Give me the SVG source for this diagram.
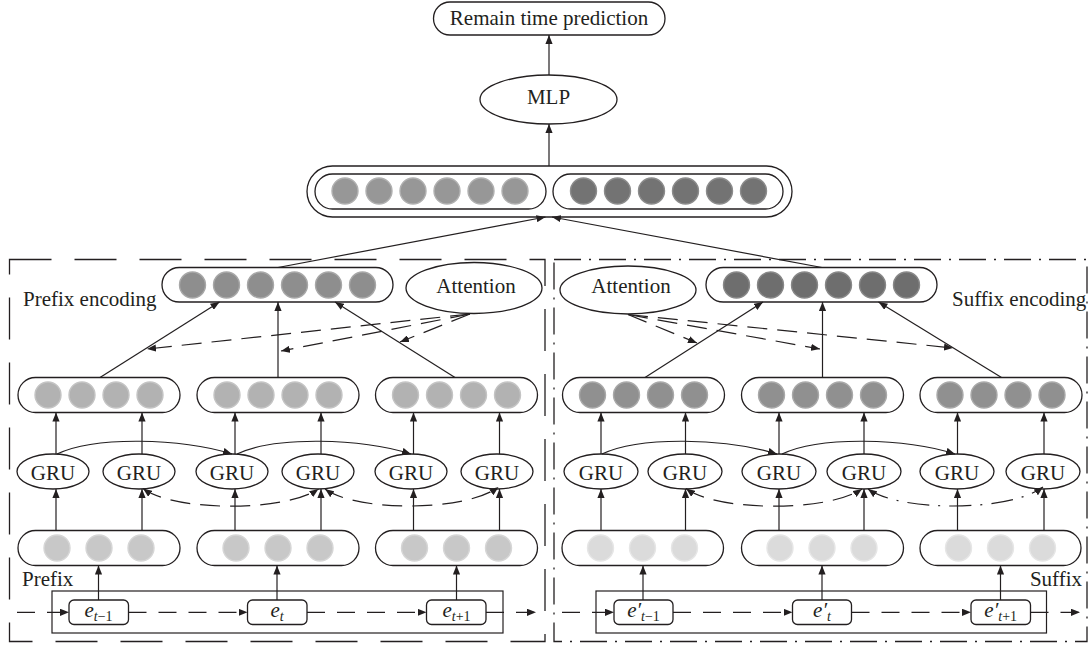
<svg xmlns="http://www.w3.org/2000/svg" width="1089" height="646" viewBox="0 0 1089 646">
  <style>
    .box { fill: #ffffff; stroke: #231f20; stroke-width: 1.3; }
    .lbl { font-family: "Liberation Serif", "Times New Roman", serif; font-size: 21px; fill: #231f20; }
    .mid { text-anchor: middle; }
    .ln { fill: none; stroke: #231f20; stroke-width: 1.2; }
    .arr { marker-end: url(#ah); }
    .both { marker-start: url(#ah); marker-end: url(#ah); }
    .dsh { stroke-dasharray: 20 10; }
    .dshdot { stroke-dasharray: 22 9 2 9; }
    .seq { stroke-dasharray: 18 12; }
    .frameL { fill: none; stroke: #231f20; stroke-width: 1.3; stroke-dasharray: 42 23; }
    .frameR { fill: none; stroke: #231f20; stroke-width: 1.3; stroke-dasharray: 27 8 2 8; }
    .cl { fill: #979797; stroke: #b0b0b0; stroke-width: 1.4; }
    .cr { fill: #737373; stroke: #8c8c8c; stroke-width: 1.4; }
    .pe { fill: #8e8e8e; stroke: #a8a8a8; stroke-width: 1.4; }
    .se { fill: #6e6e6e; stroke: #888888; stroke-width: 1.4; }
    .ph { fill: #b2b2b2; stroke: #c4c4c4; stroke-width: 1.4; }
    .sh { fill: #909090; stroke: #a9a9a9; stroke-width: 1.4; }
    .pi { fill: #c8c8c8; stroke: #d6d6d6; stroke-width: 1.4; }
    .si { fill: #dbdbdb; stroke: #e6e6e6; stroke-width: 1.4; }
  </style>
  <defs>
    <marker id="ah" viewBox="0 0 10 8" refX="10" refY="4" markerWidth="9" markerHeight="7.2" markerUnits="userSpaceOnUse" orient="auto-start-reverse">
      <path d="M0,0 L10,4 L0,8 z" fill="#231f20"/>
    </marker>
  </defs>

  <!-- encoder frames -->
  <g id="frames">
    <rect class="frameL" x="9.5" y="259.5" width="535.5" height="382"/>
    <rect class="frameR" x="554" y="259.5" width="533" height="382"/>
  </g>

  <!-- output head -->
  <g id="remain">
    <rect class="box" x="433.5" y="2" width="231.5" height="33" rx="16.5"/>
    <text class="lbl mid" x="549" y="25">Remain time prediction</text>
  </g>
  <g id="mlp">
    <ellipse class="box" cx="548.5" cy="99.5" rx="68.5" ry="24.5"/>
    <text class="lbl mid" x="548.5" y="104">MLP</text>
  </g>
  <g id="concat">
    <rect class="box" x="307" y="166" width="485" height="51" rx="25.5"/>
    <rect class="box" x="315" y="174" width="231" height="35" rx="17.5"/>
    <rect class="box" x="553" y="174" width="230" height="35" rx="17.5"/>
    <circle class="cl" cx="345" cy="191" r="13"/>
    <circle class="cl" cx="379" cy="191" r="13"/>
    <circle class="cl" cx="413" cy="191" r="13"/>
    <circle class="cl" cx="447" cy="191" r="13"/>
    <circle class="cl" cx="481" cy="191" r="13"/>
    <circle class="cl" cx="515" cy="191" r="13"/>
    <circle class="cr" cx="583.5" cy="191" r="13"/>
    <circle class="cr" cx="617.5" cy="191" r="13"/>
    <circle class="cr" cx="651.5" cy="191" r="13"/>
    <circle class="cr" cx="685.5" cy="191" r="13"/>
    <circle class="cr" cx="719.5" cy="191" r="13"/>
    <circle class="cr" cx="753.5" cy="191" r="13"/>
  </g>

  <!-- prefix encoder -->
  <g id="prefix-encoding">
    <rect class="box" x="162" y="267.5" width="231" height="34.5" rx="17.25"/>
    <circle class="pe" cx="192.5" cy="285" r="13"/>
    <circle class="pe" cx="226.5" cy="285" r="13"/>
    <circle class="pe" cx="260.5" cy="285" r="13"/>
    <circle class="pe" cx="294.5" cy="285" r="13"/>
    <circle class="pe" cx="328.5" cy="285" r="13"/>
    <circle class="pe" cx="362.5" cy="285" r="13"/>
    <text class="lbl" x="23" y="306">Prefix encoding</text>
  </g>
  <g id="prefix-attention">
    <ellipse class="box" cx="474" cy="288" rx="68" ry="25.5"/>
    <text class="lbl mid" x="476" y="293">Attention</text>
  </g>
  <g id="prefix-hidden">
    <rect class="box" x="18" y="377.5" width="162" height="35" rx="17.5"/>
    <circle class="ph" cx="48" cy="395" r="13"/>
    <circle class="ph" cx="82" cy="395" r="13"/>
    <circle class="ph" cx="116" cy="395" r="13"/>
    <circle class="ph" cx="150" cy="395" r="13"/>
    <rect class="box" x="197" y="377.5" width="162" height="35" rx="17.5"/>
    <circle class="ph" cx="227" cy="395" r="13"/>
    <circle class="ph" cx="261" cy="395" r="13"/>
    <circle class="ph" cx="295" cy="395" r="13"/>
    <circle class="ph" cx="329" cy="395" r="13"/>
    <rect class="box" x="375.5" y="377.5" width="162" height="35" rx="17.5"/>
    <circle class="ph" cx="405.5" cy="395" r="13"/>
    <circle class="ph" cx="439.5" cy="395" r="13"/>
    <circle class="ph" cx="473.5" cy="395" r="13"/>
    <circle class="ph" cx="507.5" cy="395" r="13"/>
  </g>
  <g id="prefix-gru">
    <ellipse class="box" cx="53" cy="471.5" rx="36" ry="17.5"/>
    <text class="lbl mid" x="53" y="479.5">GRU</text>
    <ellipse class="box" cx="139" cy="471.5" rx="36" ry="17.5"/>
    <text class="lbl mid" x="139" y="479.5">GRU</text>
    <ellipse class="box" cx="232" cy="471.5" rx="36" ry="17.5"/>
    <text class="lbl mid" x="232" y="479.5">GRU</text>
    <ellipse class="box" cx="318" cy="471.5" rx="36" ry="17.5"/>
    <text class="lbl mid" x="318" y="479.5">GRU</text>
    <ellipse class="box" cx="411" cy="471.5" rx="36" ry="17.5"/>
    <text class="lbl mid" x="411" y="479.5">GRU</text>
    <ellipse class="box" cx="497" cy="471.5" rx="36" ry="17.5"/>
    <text class="lbl mid" x="497" y="479.5">GRU</text>
  </g>
  <g id="prefix-input">
    <rect class="box" x="18" y="530.5" width="162" height="35" rx="17.5"/>
    <circle class="pi" cx="57" cy="548" r="13"/>
    <circle class="pi" cx="99" cy="548" r="13"/>
    <circle class="pi" cx="141" cy="548" r="13"/>
    <rect class="box" x="197" y="530.5" width="162" height="35" rx="17.5"/>
    <circle class="pi" cx="236" cy="548" r="13"/>
    <circle class="pi" cx="278" cy="548" r="13"/>
    <circle class="pi" cx="320" cy="548" r="13"/>
    <rect class="box" x="375.5" y="530.5" width="162" height="35" rx="17.5"/>
    <circle class="pi" cx="414.5" cy="548" r="13"/>
    <circle class="pi" cx="456.5" cy="548" r="13"/>
    <circle class="pi" cx="498.5" cy="548" r="13"/>
  </g>
  <g id="prefix-events">
    <text class="lbl" x="22" y="586">Prefix</text>
    <rect class="box" x="52" y="591" width="451" height="42" style="stroke-width:1.2"/>
    <rect class="box" x="69" y="600" width="59.5" height="24.5" rx="5"/>
    <text class="lbl mid" x="98.5" y="617"><tspan font-style="italic">e</tspan><tspan font-size="14" dy="4"><tspan font-style="italic">t</tspan>−1</tspan></text>
    <rect class="box" x="247.5" y="600" width="59.5" height="24.5" rx="5"/>
    <text class="lbl mid" x="277" y="617"><tspan font-style="italic">e</tspan><tspan font-size="14" dy="4" font-style="italic">t</tspan></text>
    <rect class="box" x="426.5" y="600" width="59.5" height="24.5" rx="5"/>
    <text class="lbl mid" x="456.5" y="617"><tspan font-style="italic">e</tspan><tspan font-size="14" dy="4"><tspan font-style="italic">t</tspan>+1</tspan></text>
  </g>

  <!-- suffix encoder -->
  <g id="suffix-encoding">
    <rect class="box" x="706" y="267.5" width="231" height="34.5" rx="17.25"/>
    <circle class="se" cx="736.5" cy="285" r="13"/>
    <circle class="se" cx="770.5" cy="285" r="13"/>
    <circle class="se" cx="804.5" cy="285" r="13"/>
    <circle class="se" cx="838.5" cy="285" r="13"/>
    <circle class="se" cx="872.5" cy="285" r="13"/>
    <circle class="se" cx="906.5" cy="285" r="13"/>
    <text class="lbl" x="952" y="306">Suffix encoding</text>
  </g>
  <g id="suffix-attention">
    <ellipse class="box" cx="628" cy="290" rx="68" ry="24"/>
    <text class="lbl mid" x="631" y="293">Attention</text>
  </g>
  <g id="suffix-hidden">
    <rect class="box" x="562.5" y="377.5" width="162" height="35" rx="17.5"/>
    <circle class="sh" cx="592.5" cy="395" r="13"/>
    <circle class="sh" cx="626.5" cy="395" r="13"/>
    <circle class="sh" cx="660.5" cy="395" r="13"/>
    <circle class="sh" cx="694.5" cy="395" r="13"/>
    <rect class="box" x="741.5" y="377.5" width="162" height="35" rx="17.5"/>
    <circle class="sh" cx="771.5" cy="395" r="13"/>
    <circle class="sh" cx="805.5" cy="395" r="13"/>
    <circle class="sh" cx="839.5" cy="395" r="13"/>
    <circle class="sh" cx="873.5" cy="395" r="13"/>
    <rect class="box" x="920" y="377.5" width="162" height="35" rx="17.5"/>
    <circle class="sh" cx="950" cy="395" r="13"/>
    <circle class="sh" cx="984" cy="395" r="13"/>
    <circle class="sh" cx="1018" cy="395" r="13"/>
    <circle class="sh" cx="1052" cy="395" r="13"/>
  </g>
  <g id="suffix-gru">
    <ellipse class="box" cx="601" cy="471.5" rx="37" ry="17.5"/>
    <text class="lbl mid" x="601" y="479.5">GRU</text>
    <ellipse class="box" cx="685" cy="471.5" rx="37" ry="17.5"/>
    <text class="lbl mid" x="685" y="479.5">GRU</text>
    <ellipse class="box" cx="779" cy="471.5" rx="37" ry="17.5"/>
    <text class="lbl mid" x="779" y="479.5">GRU</text>
    <ellipse class="box" cx="864" cy="471.5" rx="37" ry="17.5"/>
    <text class="lbl mid" x="864" y="479.5">GRU</text>
    <ellipse class="box" cx="957" cy="471.5" rx="37" ry="17.5"/>
    <text class="lbl mid" x="957" y="479.5">GRU</text>
    <ellipse class="box" cx="1043" cy="471.5" rx="37" ry="17.5"/>
    <text class="lbl mid" x="1043" y="479.5">GRU</text>
  </g>
  <g id="suffix-input">
    <rect class="box" x="562" y="530.5" width="161.5" height="35" rx="17.5"/>
    <circle class="si" cx="600.5" cy="548" r="13"/>
    <circle class="si" cx="642.5" cy="548" r="13"/>
    <circle class="si" cx="684.5" cy="548" r="13"/>
    <rect class="box" x="741.5" y="530.5" width="162" height="35" rx="17.5"/>
    <circle class="si" cx="780" cy="548" r="13"/>
    <circle class="si" cx="822" cy="548" r="13"/>
    <circle class="si" cx="864" cy="548" r="13"/>
    <rect class="box" x="920" y="530.5" width="161" height="35" rx="17.5"/>
    <circle class="si" cx="958.5" cy="548" r="13"/>
    <circle class="si" cx="1000.5" cy="548" r="13"/>
    <circle class="si" cx="1042.5" cy="548" r="13"/>
  </g>
  <g id="suffix-events">
    <text class="lbl" x="1082" y="586" text-anchor="end">Suffix</text>
    <rect class="box" x="596" y="591" width="450.5" height="42" style="stroke-width:1.2"/>
    <rect class="box" x="614" y="600" width="59" height="24.5" rx="5"/>
    <text class="lbl mid" x="643.5" y="617"><tspan font-style="italic">e′</tspan><tspan font-size="14" dy="4"><tspan font-style="italic">t</tspan>−1</tspan></text>
    <rect class="box" x="792.5" y="600" width="59" height="24.5" rx="5"/>
    <text class="lbl mid" x="822" y="617"><tspan font-style="italic">e′</tspan><tspan font-size="14" dy="4" font-style="italic">t</tspan></text>
    <rect class="box" x="971" y="600" width="59.5" height="24.5" rx="5"/>
    <text class="lbl mid" x="1000.7" y="617"><tspan font-style="italic">e′</tspan><tspan font-size="14" dy="4"><tspan font-style="italic">t</tspan>+1</tspan></text>
  </g>

  <!-- connectors -->
  <g id="connectors">
    <!-- head -->
    <line class="ln arr" x1="549" y1="75" x2="549" y2="35"/>
    <line class="ln arr" x1="549" y1="166" x2="549" y2="124"/>
    <line class="ln arr" x1="278" y1="267.5" x2="545.5" y2="217"/>
    <line class="ln arr" x1="822" y1="267.5" x2="552" y2="217"/>

    <!-- prefix: hidden to encoding -->
    <line class="ln arr" x1="100" y1="377.5" x2="219.5" y2="302"/>
    <line class="ln arr" x1="278" y1="377.5" x2="278" y2="302"/>
    <line class="ln arr" x1="455" y1="377.5" x2="335" y2="302"/>
    <!-- prefix attention weights -->
    <line class="ln dsh arr" x1="470" y1="314" x2="147" y2="349"/>
    <line class="ln dsh arr" x1="470" y1="314" x2="281" y2="351"/>
    <line class="ln dsh arr" x1="470" y1="314" x2="400" y2="342"/>
    <!-- prefix: gru to hidden -->
    <line class="ln arr" x1="56" y1="454" x2="56" y2="412.5"/>
    <line class="ln arr" x1="142" y1="454" x2="142" y2="412.5"/>
    <line class="ln arr" x1="235" y1="454" x2="235" y2="412.5"/>
    <line class="ln arr" x1="321" y1="454" x2="321" y2="412.5"/>
    <line class="ln arr" x1="413.5" y1="454" x2="413.5" y2="412.5"/>
    <line class="ln arr" x1="499.5" y1="454" x2="499.5" y2="412.5"/>
    <!-- prefix: input to gru -->
    <line class="ln arr" x1="56" y1="530.5" x2="56" y2="489"/>
    <line class="ln arr" x1="142" y1="530.5" x2="142" y2="489"/>
    <line class="ln arr" x1="235" y1="530.5" x2="235" y2="489"/>
    <line class="ln arr" x1="321" y1="530.5" x2="321" y2="489"/>
    <line class="ln arr" x1="413.5" y1="530.5" x2="413.5" y2="489"/>
    <line class="ln arr" x1="499.5" y1="530.5" x2="499.5" y2="489"/>
    <!-- prefix: recurrent links -->
    <path class="ln arr" d="M57 454 C95 436 180 438 232 454"/>
    <path class="ln arr" d="M237 454 C275 436 360 438 411 454"/>
    <path class="ln dsh both" d="M143 488.5 C175 512 285 512 318.5 489"/>
    <path class="ln dsh both" d="M325 489 C357 512 465 512 498.5 487"/>
    <!-- prefix: events to input -->
    <line class="ln arr" x1="98.5" y1="600" x2="98.5" y2="565.5"/>
    <line class="ln arr" x1="277" y1="600" x2="277" y2="565.5"/>
    <line class="ln arr" x1="456.5" y1="600" x2="456.5" y2="565.5"/>
    <!-- prefix: event order -->
    <line class="ln seq arr" x1="17" y1="612.3" x2="69" y2="612.3"/>
    <line class="ln seq arr" x1="128.5" y1="612.3" x2="247.5" y2="612.3"/>
    <line class="ln seq arr" x1="307" y1="612.3" x2="426.5" y2="612.3"/>
    <line class="ln seq arr" x1="486" y1="612.3" x2="536" y2="612.3"/>

    <!-- suffix: hidden to encoding -->
    <line class="ln arr" x1="645" y1="377.5" x2="763" y2="302"/>
    <line class="ln arr" x1="822.5" y1="377.5" x2="822.5" y2="302"/>
    <line class="ln arr" x1="1001.5" y1="377.5" x2="878.5" y2="302"/>
    <!-- suffix attention weights -->
    <line class="ln dsh arr" x1="628" y1="314.5" x2="697" y2="343"/>
    <line class="ln dsh arr" x1="628" y1="314.5" x2="820" y2="349"/>
    <line class="ln dsh arr" x1="628" y1="314.5" x2="953" y2="348"/>
    <!-- suffix: gru to hidden -->
    <line class="ln arr" x1="601" y1="454" x2="601" y2="412.5"/>
    <line class="ln arr" x1="685.5" y1="454" x2="685.5" y2="412.5"/>
    <line class="ln arr" x1="779" y1="454" x2="779" y2="412.5"/>
    <line class="ln arr" x1="864" y1="454" x2="864" y2="412.5"/>
    <line class="ln arr" x1="957.5" y1="454" x2="957.5" y2="412.5"/>
    <line class="ln arr" x1="1044" y1="454" x2="1044" y2="412.5"/>
    <!-- suffix: input to gru -->
    <line class="ln arr" x1="601" y1="530.5" x2="601" y2="489"/>
    <line class="ln arr" x1="685.5" y1="530.5" x2="685.5" y2="489"/>
    <line class="ln arr" x1="779" y1="530.5" x2="779" y2="489"/>
    <line class="ln arr" x1="864" y1="530.5" x2="864" y2="489"/>
    <line class="ln arr" x1="957.5" y1="530.5" x2="957.5" y2="489"/>
    <line class="ln arr" x1="1044" y1="530.5" x2="1044" y2="489"/>
    <!-- suffix: recurrent links -->
    <path class="ln arr" d="M602 454 C640 436 725 438 777 454"/>
    <path class="ln arr" d="M782 454 C820 436 905 438 955 454"/>
    <path class="ln dsh both" d="M686 488.5 C718 512 828 512 862 489"/>
    <path class="ln dshdot both" d="M868 489 C900 512 1010 512 1043 487"/>
    <!-- suffix: events to input -->
    <line class="ln arr" x1="643" y1="600" x2="643" y2="565.5"/>
    <line class="ln arr" x1="822" y1="600" x2="822" y2="565.5"/>
    <line class="ln arr" x1="1000.5" y1="600" x2="1000.5" y2="565.5"/>
    <!-- suffix: event order -->
    <line class="ln seq arr" x1="562" y1="612.3" x2="614" y2="612.3"/>
    <line class="ln seq arr" x1="673" y1="612.3" x2="792.5" y2="612.3"/>
    <line class="ln seq arr" x1="851.5" y1="612.3" x2="971" y2="612.3"/>
    <line class="ln seq arr" x1="1030.5" y1="612.3" x2="1080" y2="612.3"/>
  </g>
</svg>
